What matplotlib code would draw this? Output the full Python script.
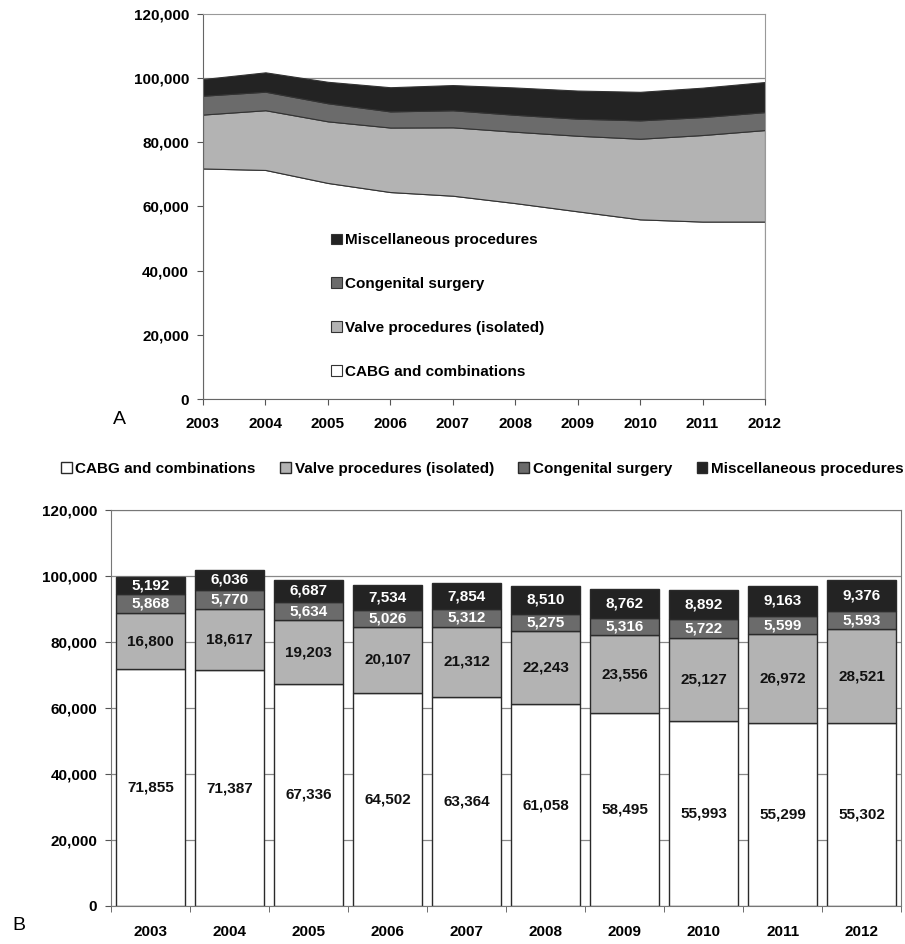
import numpy as np
import matplotlib.pyplot as plt

plt.rcParams['font.family'] = ['Liberation Sans', 'DejaVu Sans']
plt.rcParams['font.weight'] = 'bold'

years = [2003, 2004, 2005, 2006, 2007, 2008, 2009, 2010, 2011, 2012]
cabg = [71855, 71387, 67336, 64502, 63364, 61058, 58495, 55993, 55299, 55302]
valve = [16800, 18617, 19203, 20107, 21312, 22243, 23556, 25127, 26972, 28521]
congenital = [5868, 5770, 5634, 5026, 5312, 5275, 5316, 5722, 5599, 5593]
misc = [5192, 6036, 6687, 7534, 7854, 8510, 8762, 8892, 9163, 9376]

names = ['CABG and combinations', 'Valve procedures (isolated)',
         'Congenital surgery', 'Miscellaneous procedures']
colors = ['#ffffff', '#b3b3b3', '#6b6b6b', '#232323']
text_colors = ['#111111', '#111111', '#ffffff', '#ffffff']
series = [cabg, valve, congenital, misc]

FS = 11
fig = plt.figure(figsize=(9.05, 9.44), dpi=100)

# ---- A: stacked area ----
ax1 = fig.add_axes([0.2243, 0.5773, 0.6210, 0.4079])
x = np.arange(len(years))
ax1.stackplot(x, *series, colors=colors, labels=names,
              edgecolor='#333333', linewidth=0.8, zorder=2)
ax1.set_xlim(0, len(years) - 1)
ax1.set_ylim(0, 120000)
ax1.set_yticks(np.arange(0, 120001, 20000))
ax1.set_yticklabels([f'{v:,}' for v in range(0, 120001, 20000)], fontsize=FS)
ax1.set_xticks(x)
ax1.set_xticklabels([str(y) for y in years], fontsize=FS)
ax1.tick_params(axis='both', direction='out', length=4, color='#555555', pad=6)
ax1.tick_params(axis='x', pad=9)
ax1.axhline(100000, color='#888888', linewidth=0.9, zorder=1)
for s in ['left', 'bottom']:
    ax1.spines[s].set_color('#666666')
for s in ['top', 'right']:
    ax1.spines[s].set_color('#999999')
h, l = ax1.get_legend_handles_labels()
ax1.legend(h[::-1], l[::-1], loc='upper left', bbox_to_anchor=(0.214, 0.45),
           frameon=False, fontsize=FS, labelspacing=1.95, handlelength=0.7,
           handleheight=0.7, handletextpad=0.25, borderpad=0)
fig.text(113 / 905, 1 - 420 / 944, 'A', fontsize=14, fontweight='normal',
         ha='left', va='center')

# ---- B: stacked bars with values ----
ax2 = fig.add_axes([0.1227, 0.0403, 0.8730, 0.4195])
bottom = np.zeros(len(years))
for vals, name, c, tc in zip(series, names, colors, text_colors):
    bars = ax2.bar(x, vals, bottom=bottom, width=0.875, color=c,
                   edgecolor='#2a2a2a', linewidth=1.0, label=name, zorder=2)
    ax2.bar_label(bars, labels=[f'{v:,}' for v in vals], label_type='center',
                  color=tc, fontsize=FS, fontweight='bold')
    bottom += np.array(vals)
ax2.set_xlim(-0.5, len(years) - 0.5)
ax2.set_ylim(0, 120000)
ax2.set_yticks(np.arange(0, 120001, 20000))
ax2.set_yticklabels([f'{v:,}' for v in range(0, 120001, 20000)], fontsize=FS)
ax2.yaxis.grid(True, color='#888888', linewidth=0.9, zorder=0)
ax2.set_axisbelow(True)
ax2.set_xticks(x)
ax2.set_xticklabels([str(y) for y in years], fontsize=FS)
ax2.tick_params(axis='x', length=0, pad=14)
ax2.set_xticks(np.arange(-0.5, len(years)), minor=True)
ax2.tick_params(axis='x', which='minor', direction='out', length=4, color='#555555')
ax2.tick_params(axis='y', direction='out', length=4, color='#555555', pad=6)
for s in ax2.spines.values():
    s.set_color('#777777')
fig.legend(*ax2.get_legend_handles_labels(), loc='center', ncol=4,
           bbox_to_anchor=(0.533, 1 - 469 / 944), frameon=False, fontsize=FS,
           handlelength=0.7, handleheight=0.7, handletextpad=0.25,
           columnspacing=1.6)
fig.text(12 / 905, 1 - 926 / 944, 'B', fontsize=14, fontweight='normal',
         ha='left', va='center')

fig.savefig('out.png', dpi=100)
